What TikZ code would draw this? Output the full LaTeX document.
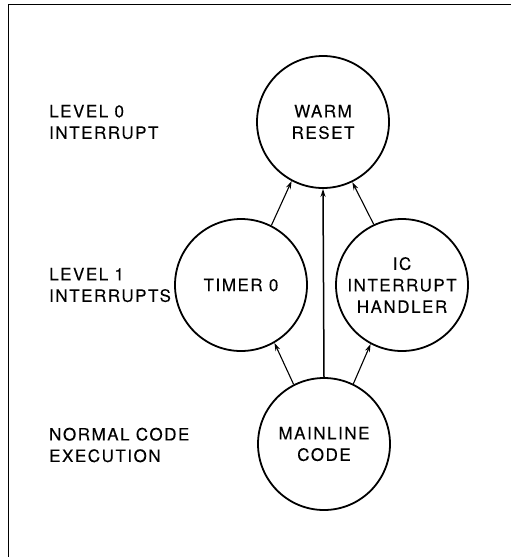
\documentclass[tikz,border=0pt]{standalone}
\usepackage{fontspec}
\setmainfont{TeX Gyre Heros}[LetterSpace=9,FakeBold=0.12]
\usetikzlibrary{arrows.meta}
\begin{document}
\begin{tikzpicture}[x=1pt,y=-1pt,
  state/.style={circle,draw,line width=1.8pt,minimum size=132pt,inner sep=0pt,align=center,
    font=\fontsize{17}{21.5}\selectfont},
  lbl/.style={anchor=west,align=left,inner sep=0pt,font=\fontsize{17}{21.5}\selectfont},
  conn/.style={line width=1.1pt,-{Stealth[length=8pt,width=5pt]}},
  frame/.style={line width=1.6pt}]
\useasboundingbox (0,0) rectangle (511,557);
\fill[white] (0,0) rectangle (511,557);
\coordinate (ftop) at (511,4.5);
\coordinate (fcorner) at (8.5,4.5);
\coordinate (fbot) at (8.5,557);
\draw[frame] (ftop) -- (fcorner) -- (fbot);

\node[state] (warm) at (323,122) {WARM\\RESET};
\node[state] (timer) at (241,285) {TIMER 0};
\node[state] (ic) at (402,285) {IC\\INTERRUPT\\HANDLER};
\node[state] (main) at (324,444) {MAINLINE\\CODE};

\node[lbl] (l0) at (49,122) {LEVEL 0\\INTERRUPT};
\node[lbl] (l1) at (49,285) {LEVEL 1\\INTERRUPTS};
\node[lbl] (l2) at (49,445) {NORMAL CODE\\EXECUTION};

\draw[conn] (timer.63) -- (warm.-118);
\draw[conn] (ic.115) -- (warm.-64);
\draw[conn] (main.117) -- (timer.-60);
\draw[conn] (main.64) -- (ic.-118);
\draw[conn,line width=1.5pt] (main.north) -- (warm.south);
\end{tikzpicture}
\end{document}
